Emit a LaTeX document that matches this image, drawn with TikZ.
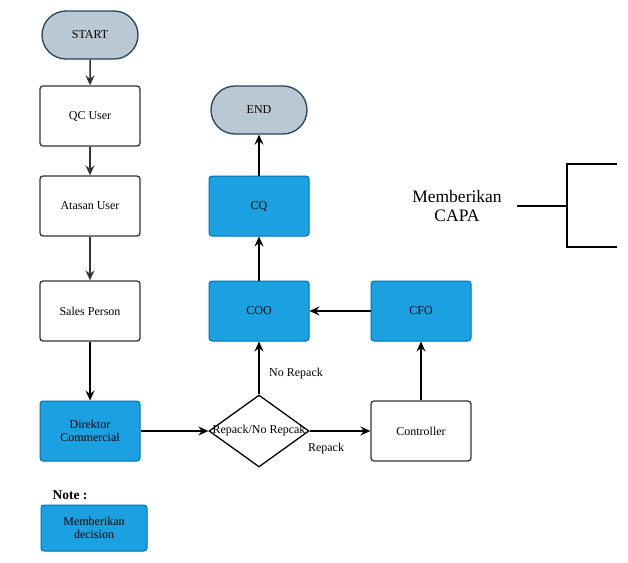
\documentclass[tikz,border=0pt]{standalone}
\usepackage{fontspec}
\setmainfont{Liberation Serif}
\usetikzlibrary{shapes.geometric, shapes.misc, arrows.meta}

\definecolor{termfill}{HTML}{BAC8D3}
\definecolor{termline}{HTML}{23445D}
\definecolor{bluefill}{HTML}{1BA1E2}
\definecolor{blueline}{HTML}{006EAF}
\definecolor{greyline}{HTML}{333333}

\begin{document}
\begin{tikzpicture}[x=1pt,y=-1pt,>={Stealth[length=10pt,width=9pt,inset=3.5pt]},
    font=\fontsize{12}{13.5}\selectfont,
    terminal/.style={draw=termline, fill=termfill, line width=1.3pt, rounded rectangle,
        minimum width=96pt, minimum height=48pt, inner sep=0pt},
    whitebox/.style={draw=greyline, fill=white, line width=1.3pt, rounded corners=3pt,
        minimum width=100pt, minimum height=60pt, inner sep=0pt},
    bluebox/.style={draw=blueline, fill=bluefill, line width=1pt, rounded corners=3pt,
        minimum width=100pt, minimum height=60pt, inner sep=0pt, align=center},
    decision/.style={draw=black, fill=white, line width=1.3pt, diamond, aspect=1.39,
        minimum width=100pt, minimum height=72pt, inner sep=0pt},
    flow/.style={->, line width=1.5pt, black},
    greyflow/.style={->, line width=1.5pt, greyline}]

    \useasboundingbox (0,0) rectangle (628,562);

    %left column
    \node[terminal] (start) at (90,35) {START};
    \node[whitebox] (qc) at (90,116) {QC User};
    \node[whitebox] (atasan) at (90,206) {Atasan User};
    \node[whitebox] (sales) at (90,311) {Sales Person};
    \node[bluebox] (direktor) at (90,431) {Direktor\\Commercial};

    %decision
    \node[decision, label=center:{Repack/No Repcak}] (repack) at (259,431) {};

    %right part
    \node[whitebox] (controller) at (421,431) {Controller};
    \node[bluebox] (cfo) at (421,311) {CFO};
    \node[bluebox] (coo) at (259,311) {COO};
    \node[bluebox] (cq) at (259,206) {CQ};
    \node[terminal] (end) at (259,110) {END};

    %connectors
    \draw[greyflow] (start) -- (qc);
    \draw[greyflow] (qc) -- (atasan);
    \draw[greyflow] (atasan) -- (sales);
    \draw[flow] (sales) -- (direktor);
    \draw[flow] (direktor) -- (repack);
    \draw[flow] (repack) -- (controller);
    \draw[flow] (repack) -- (coo);
    \draw[flow] (controller) -- (cfo);
    \draw[flow] (cfo) -- (coo);
    \draw[flow] (coo) -- (cq);
    \draw[flow] (cq) -- (end);

    %labels
    \node (norepack) at (296,374) {No Repack};
    \node (repacklbl) at (326,449) {Repack};

    %capa bracket
    \node[font=\fontsize{17.5}{19}\selectfont, align=center] (capa) at (457,206) {Memberikan\\CAPA};
    \coordinate (bmid) at (567,206);
    \coordinate (btop) at (567,164);
    \coordinate (bbot) at (567,247);
    \draw[line width=1.5pt] (517,206) -- (bmid);
    \draw[line width=1.5pt] (617,164) -- (btop) -- (bbot) -- (617,247);

    %note
    \node[font=\fontsize{13.5}{15}\selectfont\bfseries] (note) at (70,495) {Note :};
    \node[bluebox, minimum width=106pt, minimum height=46pt] (legend) at (94,528) {Memberikan\\decision};
\end{tikzpicture}
\end{document}
